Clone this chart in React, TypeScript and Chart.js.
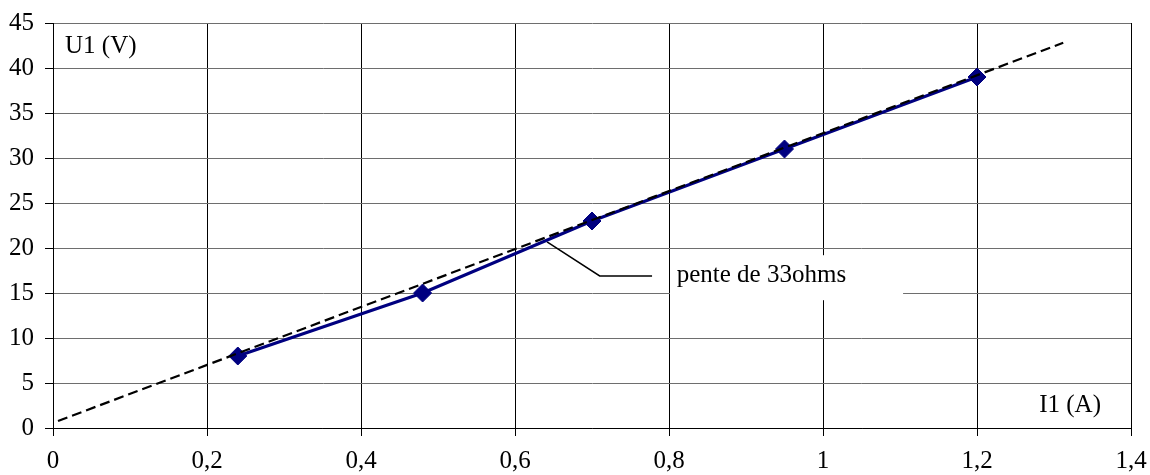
import React, { useEffect, useRef } from "react";
import { Chart, registerables } from "chart.js";

Chart.register(...registerables);

const currentA = [0.24, 0.48, 0.7, 0.95, 1.2];
const voltageV = [8, 15, 23, 31, 39];
const slopeLineX = [0.0065, 1.312];
const slopeLineY = [0.78, 42.8];
const leaderX = [0.6416, 0.71, 0.778];
const leaderY = [20.67, 16.9, 16.9];
const xTicks = [0, 0.2, 0.4, 0.6, 0.8, 1, 1.2, 1.4];
const yTicks = [0, 5, 10, 15, 20, 25, 30, 35, 40, 45];
const annotationText = "pente de 33ohms";
const yTitle = "U1 (V)";
const xTitle = "I1 (A)";

const FONT = "'Liberation Serif', 'Times New Roman', serif";

const overlayPlugin = {
  id: "overlay",
  beforeDatasetsDraw(chart: any) {
    const { ctx, chartArea, scales } = chart;
    const x = scales.x;
    const y = scales.y;
    ctx.save();
    const bx0 = x.getPixelForValue(0.8) + 1;
    const bx1 = x.getPixelForValue(1.104);
    const by0 = y.getPixelForValue(19.2);
    const by1 = y.getPixelForValue(14.2);
    ctx.fillStyle = "#ffffff";
    ctx.fillRect(bx0, by0, bx1 - bx0, by1 - by0);
    ctx.fillStyle = "#000000";
    ctx.font = `25px ${FONT}`;
    ctx.textBaseline = "middle";
    ctx.textAlign = "left";
    ctx.fillText(annotationText, x.getPixelForValue(0.81), y.getPixelForValue(16.9));
    ctx.fillText(yTitle, chartArea.left + 12, chartArea.top + 23);
    ctx.textAlign = "right";
    ctx.fillText(xTitle, chartArea.right - 30, chartArea.bottom - 23);
    ctx.restore();
  },
};

const fmt = (v: number) => Number(v.toFixed(1)).toString().replace(".", ",");

export default function App() {
  const ref = useRef<HTMLCanvasElement | null>(null);
  useEffect(() => {
    document.body.style.margin = "0";
    const chart = new Chart(ref.current as HTMLCanvasElement, {
      type: "scatter",
      data: {
        datasets: [
          {
            label: "pente",
            data: slopeLineX.map((v, i) => ({ x: v, y: slopeLineY[i] })),
            showLine: true,
            borderColor: "#000000",
            borderWidth: 2.2,
            borderDash: [10, 5],
            pointRadius: 0,
            order: 0,
          },
          {
            label: "U1",
            data: currentA.map((v, i) => ({ x: v, y: voltageV[i] })),
            showLine: true,
            borderColor: "#000080",
            backgroundColor: "#000080",
            borderWidth: 3,
            pointStyle: "rectRot",
            pointRadius: 9,
            pointBorderWidth: 1,
            order: 1,
          },
          {
            label: "leader",
            data: leaderX.map((v, i) => ({ x: v, y: leaderY[i] })),
            showLine: true,
            borderColor: "#000000",
            borderWidth: 1.5,
            pointRadius: 0,
            order: 2,
          },
        ],
      },
      options: {
        animation: false,
        responsive: false,
        layout: { padding: { top: 23, right: 19, left: 0, bottom: 0 } },
        plugins: { legend: { display: false }, tooltip: { enabled: false } },
        scales: {
          x: {
            type: "linear",
            min: 0,
            max: 1.4,
            afterBuildTicks: (s: any) => {
              s.ticks = xTicks.map((v) => ({ value: v }));
            },
            afterFit: (s: any) => {
              s.height = 47;
              s.paddingRight = 0;
              s.paddingLeft = 0;
            },
            ticks: {
              color: "#000",
              font: { family: FONT, size: 25 },
              padding: 10,
              callback: (v: any) => fmt(Number(v)),
              maxRotation: 0,
            },
            grid: { color: "#000", lineWidth: 1, tickLength: 8, tickColor: "#000" },
            border: { color: "#000", width: 1 },
          },
          y: {
            type: "linear",
            min: 0,
            max: 45,
            afterBuildTicks: (s: any) => {
              s.ticks = yTicks.map((v) => ({ value: v }));
            },
            afterFit: (s: any) => {
              s.width = 53;
              s.paddingTop = 0;
              s.paddingBottom = 0;
            },
            ticks: {
              color: "#000",
              font: { family: FONT, size: 25 },
              padding: 11,
              callback: (v: any) => String(v),
            },
            grid: { color: "#6e6e6e", lineWidth: 1, tickLength: 8, tickColor: "#000" },
            border: { color: "#000", width: 1 },
          },
        },
      },
      plugins: [overlayPlugin],
    } as any);
    return () => chart.destroy();
  }, []);
  return (
    <div style={{ width: 1150, height: 475 }}>
      <canvas ref={ref} width={1150} height={475} style={{ display: "block" }} />
    </div>
  );
}
